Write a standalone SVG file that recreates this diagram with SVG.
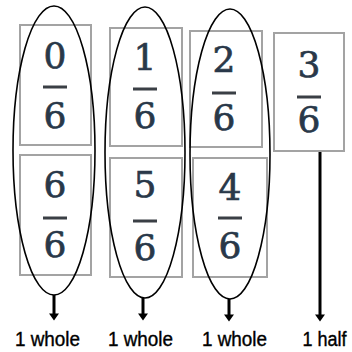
<svg xmlns="http://www.w3.org/2000/svg" width="352" height="352" viewBox="0 0 352 352">
<defs>
<style>
.box{fill:#fff;stroke:#a3a3a3;stroke-width:2}
.num{font-family:"DejaVu Serif","Liberation Serif",serif;font-size:36px;fill:#293849;stroke:#293849;stroke-width:0.7;text-anchor:middle}
.bar{fill:#3a3f45}
.oval{fill:none;stroke:#000;stroke-width:1.6}
.arr{stroke:#000;stroke-width:3;fill:none}
.lbl{font-family:"Liberation Sans",Arial,sans-serif;font-size:21px;fill:#000;stroke:#000;stroke-width:0.4;text-anchor:middle}
</style>
<marker id="ah" markerUnits="userSpaceOnUse" markerWidth="12" markerHeight="12" viewBox="0 -6 8 12" refX="0.5" refY="0" orient="auto">
<path d="M0,-5 L7,0 L0,5 z" fill="#000"/>
</marker>
</defs>
<rect width="352" height="352" fill="#fff"/>
<g id="n0-6">
<rect class="box" x="20" y="25" width="71" height="120"/>
<text class="num" x="55" y="68">0</text>
<rect class="bar" x="43" y="85.5" width="24" height="3"/>
<text class="num" x="55" y="128">6</text>
</g>
<g id="n1-6">
<rect class="box" x="110" y="28" width="72" height="118"/>
<text class="num" x="145" y="70">1</text>
<rect class="bar" x="133" y="87.5" width="24" height="3"/>
<text class="num" x="145" y="128">6</text>
</g>
<g id="n2-6">
<rect class="box" x="190" y="31" width="72" height="116"/>
<text class="num" x="224" y="72">2</text>
<rect class="bar" x="212" y="91.5" width="24" height="3"/>
<text class="num" x="224" y="130">6</text>
</g>
<g id="n3-6">
<rect class="box" x="274" y="33" width="70" height="118"/>
<text class="num" x="309" y="77">3</text>
<rect class="bar" x="297" y="95.5" width="24" height="3"/>
<text class="num" x="309" y="132">6</text>
</g>
<g id="n6-6">
<rect class="box" x="20" y="155" width="71" height="120"/>
<text class="num" x="55" y="197">6</text>
<rect class="bar" x="43" y="216.5" width="24" height="3"/>
<text class="num" x="55" y="257">6</text>
</g>
<g id="n5-6">
<rect class="box" x="110" y="158" width="72" height="119"/>
<text class="num" x="145" y="197">5</text>
<rect class="bar" x="133" y="219.5" width="24" height="3"/>
<text class="num" x="145" y="260">6</text>
</g>
<g id="n4-6">
<rect class="box" x="193" y="158" width="74" height="119"/>
<text class="num" x="230" y="200">4</text>
<rect class="bar" x="218" y="216.5" width="24" height="3"/>
<text class="num" x="230" y="258">6</text>
</g>
<g id="groups">
<ellipse class="oval" cx="54" cy="150.5" rx="41" ry="144.5"/>
<ellipse class="oval" cx="145" cy="152.5" rx="40" ry="145.5"/>
<ellipse class="oval" cx="230" cy="154" rx="40" ry="145"/>
</g>
<g id="connectors">
<line class="arr" x1="54" y1="295" x2="54" y2="314" marker-end="url(#ah)"/>
<line class="arr" x1="143" y1="298" x2="143" y2="314" marker-end="url(#ah)"/>
<line class="arr" x1="229" y1="299" x2="229" y2="315" marker-end="url(#ah)"/>
<line class="arr" x1="320" y1="152" x2="320" y2="315" marker-end="url(#ah)"/>
</g>
<g id="labels">
<text class="lbl" transform="translate(47.5,346) scale(0.9,1)">1 whole</text>
<text class="lbl" transform="translate(140.5,346) scale(0.9,1)">1 whole</text>
<text class="lbl" transform="translate(234.5,346) scale(0.9,1)">1 whole</text>
<text class="lbl" transform="translate(324.5,346) scale(0.86,1)">1 half</text>
</g>
</svg>
